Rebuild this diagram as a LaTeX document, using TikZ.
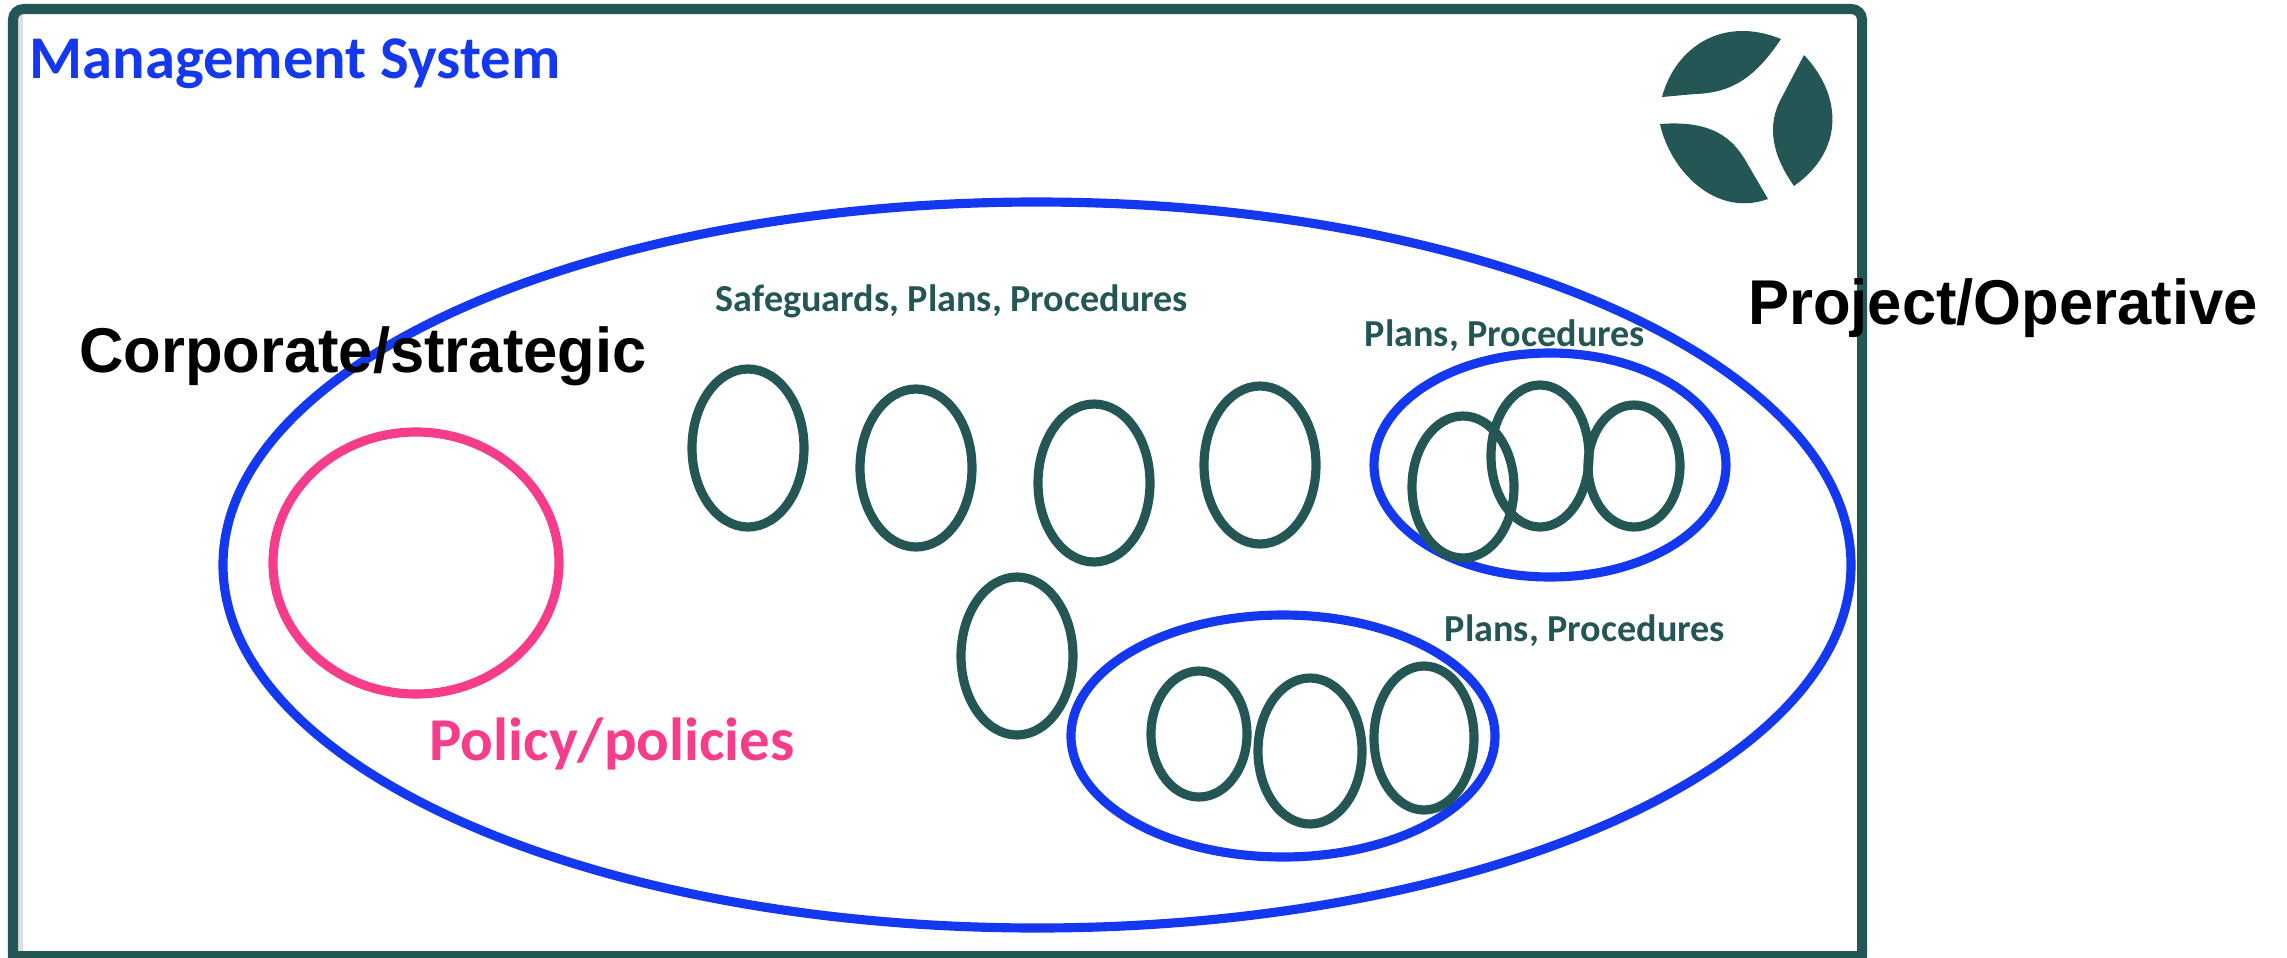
\documentclass[tikz,border=0pt]{standalone}
\usepackage{fontspec}
\setmainfont{Liberation Sans}
\newfontfamily\carlito{Carlito}
\newfontfamily\headfont[FakeStretch=0.972]{Liberation Sans}
\definecolor{framegreen}{HTML}{235654}
\definecolor{msblue}{HTML}{1438F0}
\definecolor{policypink}{HTML}{F53D8C}
\tikzset{
    heading/.style={font=\headfont\fontsize{18}{20}\selectfont\bfseries, text=black, inner sep=0pt},
    planlabel/.style={font=\carlito\fontsize{10.85}{12}\selectfont\bfseries, text=framegreen, inner sep=0pt},
}
\begin{document}
\begin{tikzpicture}[x=0.01cm,y=-0.01cm]
    \def\ovalg#1#2#3{
    \draw[framegreen,line width=2.6pt] #1 ellipse (#2 and #3);
    }
    \def\ringblue#1#2#3{
    \draw[msblue,line width=2.6pt] #1 ellipse (#2 and #3);
    }

    \useasboundingbox (0,0) rectangle (2287,957);

    \draw[gray!25,line width=1.4pt] (20.5,14) -- (20.5,951);
    \draw[framegreen,line width=2.85pt,rounded corners=3pt] (13,957) |- (1862,9) -- (1862,957);
    \draw[framegreen,line width=2pt] (8,954.5) -- (1867,954.5);

    % logo
    \fill[framegreen] (1662,97) .. controls (1675,48) and (1722,15) .. (1781,39) .. controls (1760,70) and (1738,93) .. (1695,94) -- cycle;
    \fill[framegreen] (1804,55) .. controls (1842,95) and (1845,150) .. (1794,186) .. controls (1772,155) and (1766,125) .. (1782,97) -- cycle;
    \fill[framegreen] (1660,124) .. controls (1670,170) and (1715,218) .. (1768,199) -- (1747,163) .. controls (1733,138) and (1712,120) .. (1660,124) -- cycle;

    \ringblue{(1037,565)}{814}{363};
    \draw[policypink,line width=2.6pt] (416,563) ellipse (143 and 131);

    \ovalg{(748,448)}{56}{79};
    \ovalg{(916,468)}{56}{79};
    \ovalg{(1094,483)}{56}{79};
    \ovalg{(1260,465)}{56}{79};
    \ovalg{(1017,656)}{56}{79};

    \ringblue{(1550,465)}{176}{112};
    \ovalg{(1463,487)}{51}{71};
    \ovalg{(1540,456)}{49}{71};
    \ovalg{(1634,466)}{46}{61};

    \ringblue{(1283,736)}{212}{121};
    \ovalg{(1199,734)}{48}{63};
    \ovalg{(1310,751)}{52}{73};
    \ovalg{(1424,738)}{50}{72};

    \node[anchor=west,inner sep=0pt,font=\carlito\fontsize{17.25}{19}\selectfont\bfseries,text=msblue] (title) at (29,64) {Management System};
    \node[planlabel] (safeguards) at (952,301) {Safeguards, Plans, Procedures};
    \node[planlabel] (plansa) at (1505,336) {Plans, Procedures};
    \node[planlabel] (plansb) at (1585,631) {Plans, Procedures};
    \node[inner sep=0pt,font=\carlito\fontsize{17.3}{19}\selectfont\bfseries,text=policypink] (policy) at (612,744) {Policy/policies};
    \node[heading] (corporate) at (363,356) {Corporate/strategic};
    \node[heading] (project) at (2003,308) {Project/Operative};
\end{tikzpicture}
\end{document}
